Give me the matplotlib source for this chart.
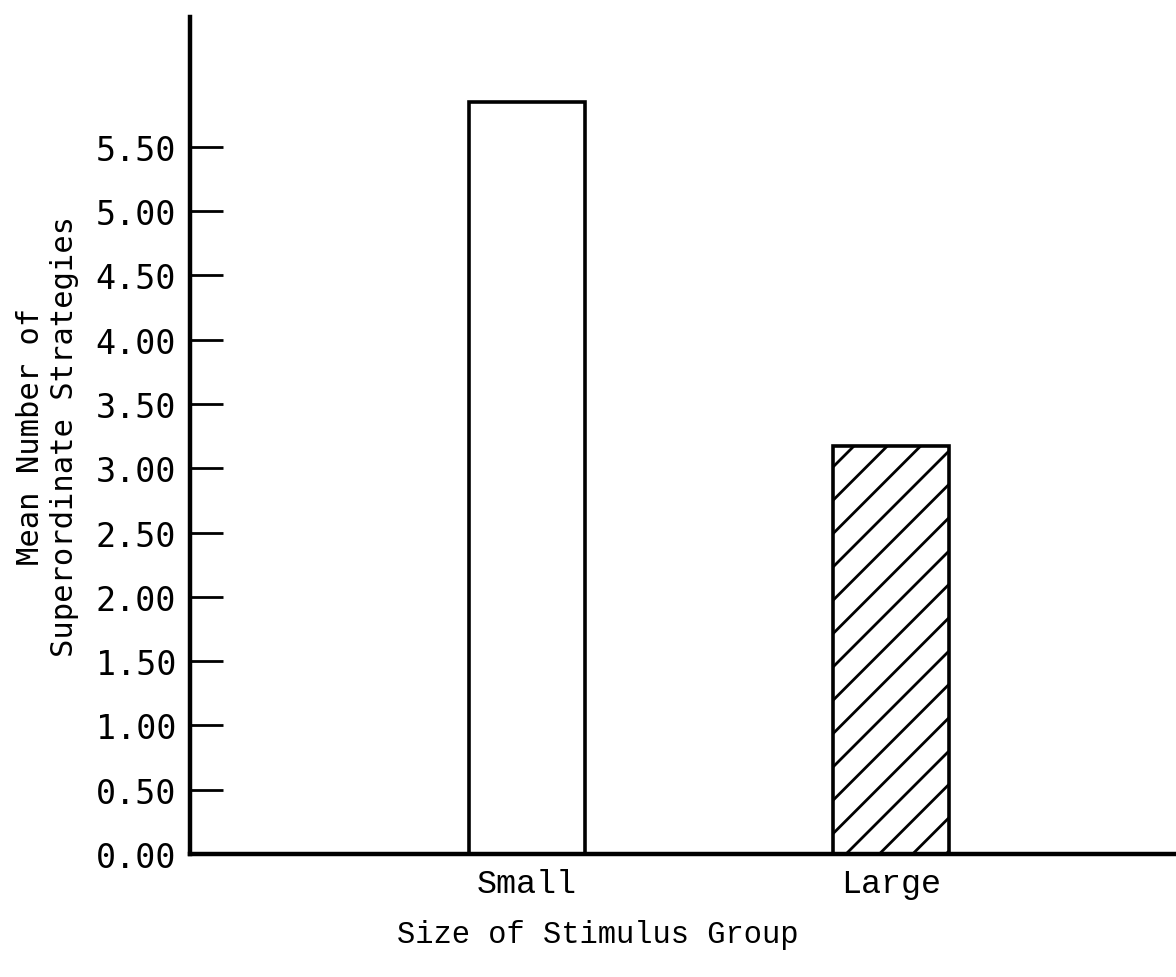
import matplotlib.pyplot as plt

# --- data ---
groups = ['Small', 'Large']
means = [5.85, 3.17]
hatches = ['', '//']
yticks = [0.0, 0.5, 1.0, 1.5, 2.0, 2.5, 3.0, 3.5, 4.0, 4.5, 5.0, 5.5]
ytick_labels = ['%.2f' % v for v in yticks]

# dpi 200 so that the hatch spacing is wide, like the scanned figure
plt.rcParams['hatch.linewidth'] = 1.0
fig = plt.figure(figsize=(5.88, 4.89), dpi=200)
ax = fig.add_axes([0.1616, 0.1258, 0.8384, 0.8558])

x = list(range(len(groups)))
for xi, m, h in zip(x, means, hatches):
    ax.bar(xi, m, width=0.32, facecolor='white', edgecolor='black',
           linewidth=1.3, hatch=h)

ax.set_xlim(-0.926, 1.783)
ax.set_ylim(0, 6.51)

ax.set_yticks(yticks)
ax.set_yticklabels(ytick_labels, family='DejaVu Sans Mono', fontsize=12)
ax.tick_params(axis='y', direction='in', length=12, width=1.0, pad=5)

ax.set_xticks(x)
ax.set_xticklabels(groups, family='Liberation Mono', fontsize=12)
ax.tick_params(axis='x', length=0, pad=5)

for s in ['top', 'right']:
    ax.spines[s].set_visible(False)
for s in ['left', 'bottom']:
    ax.spines[s].set_linewidth(1.6)

ax.set_ylabel('Mean Number of\nSuperordinate Strategies',
              family='DejaVu Sans Mono', fontsize=11, linespacing=1.2,
              labelpad=6)

fig.text(0.508, 0.044, 'Size of Stimulus Group', family='Liberation Mono',
         fontsize=11, ha='center', va='center')

fig.savefig('out.png', dpi=200)
